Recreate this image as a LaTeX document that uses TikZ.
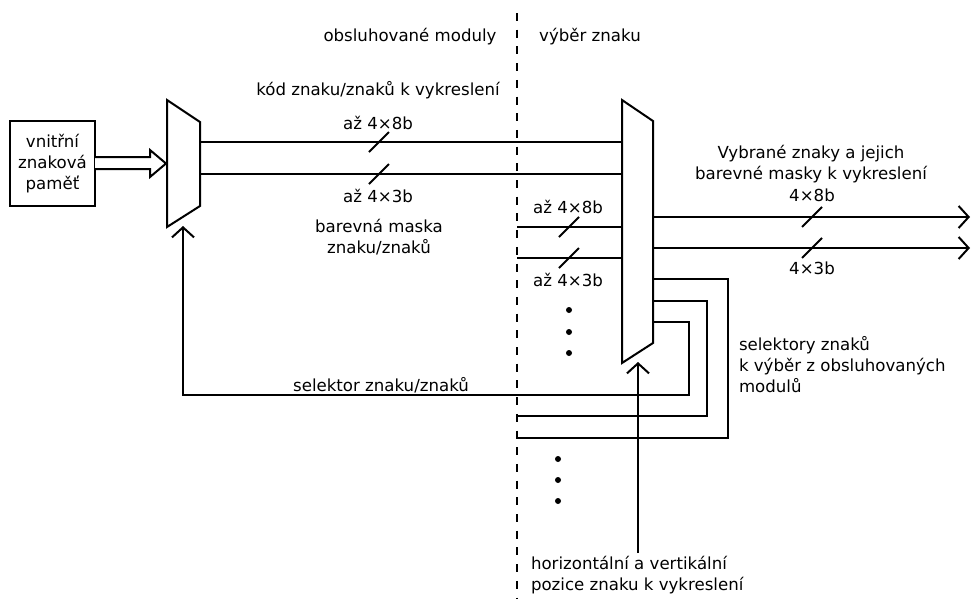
\documentclass[tikz,border=0pt]{standalone}
\usepackage{fontspec}
\setmainfont{DejaVu Sans}
\usetikzlibrary{arrows.meta,calc}
\begin{document}
\begin{tikzpicture}[x=1pt,y=-1pt,line width=2pt,line join=miter,
  every node/.style={inner sep=0pt,outer sep=0pt,font=\fontsize{16.6}{21}\selectfont},
  lbl/.style={align=center},
  lbll/.style={align=left,anchor=west},
  wire/.style={draw},
  arr/.style={-{Straight Barb[length=10pt,width=22pt,line width=2pt]}},
  muxshape/.style={draw,fill=white},
  slash/.style={line width=1.8pt},
  dot/.style={circle,fill=black,minimum size=6pt}]

\useasboundingbox (0,0) rectangle (972,598);

% boundary between the two parts
\draw[line width=2pt,dash pattern=on 8pt off 8.7pt] (517,13) -- (517,598);

% memory block
\node[draw,minimum width=85pt,minimum height=85pt,align=center] (mem) at (52.5,163.5)
  {vnitřní\\znaková\\paměť};

% multiplexers
\coordinate (mA1) at (167,100); \coordinate (mA2) at (200,122);
\coordinate (mA3) at (200,206); \coordinate (mA4) at (167,227);
\draw[muxshape] (mA1) -- (mA2) -- (mA3) -- (mA4) -- cycle;
\coordinate (mB1) at (622,100); \coordinate (mB2) at (653,121);
\coordinate (mB3) at (653,343); \coordinate (mB4) at (622,363);
\draw[muxshape] (mB1) -- (mB2) -- (mB3) -- (mB4) -- cycle;

% wide arrow from memory into the first multiplexer
\coordinate (wa) at (mem.east |- 0,157);
\coordinate (wb) at (mem.east |- 0,169);
\draw[fill=white,line width=2pt]
  (wa) -- (150,157) -- (150,150) -- (166,163.5) -- (150,177) -- (150,169) -- (wb);

% code and colour mask buses
\coordinate (a1) at (200,142); \coordinate (b1) at (622,142);
\coordinate (a2) at (200,174); \coordinate (b2) at (622,174);
\draw (a1) -- (b1);
\draw (a2) -- (b2);
\draw[slash] (369,152) -- (389,132);
\draw[slash] (369,184) -- (389,164);
\node[lbl] (t8a) at (378,123) {až 4×8b};
\node[lbl] (t3a) at (378,196) {až 4×3b};
\node[lbl] (mask) at (379,237.5) {barevná maska\\znaku/znaků};

% buses from further modules
\coordinate (c1) at (517,227); \coordinate (d1) at (622,227);
\coordinate (c2) at (517,258); \coordinate (d2) at (622,258);
\draw (c1) -- (d1);
\draw (c2) -- (d2);
\draw[slash] (559,237) -- (579,217);
\draw[slash] (559,268) -- (579,248);
\node[lbl] (t8b) at (568,207) {až 4×8b};
\node[lbl] (t3b) at (568,280) {až 4×3b};
\node[dot] (d1a) at (569,310) {};
\node[dot] (d1b) at (569,332) {};
\node[dot] (d1c) at (569,353) {};

% outputs
\coordinate (o1) at (653,217); \coordinate (e1) at (970,217);
\coordinate (o2) at (653,248); \coordinate (e2) at (970,248);
\draw[arr] (o1) -- (e1);
\draw[arr] (o2) -- (e2);
\draw[slash] (802,227) -- (822,207);
\draw[slash] (802,258) -- (822,238);
\node[lbl] (t8c) at (812,195) {4×8b};
\node[lbl] (t3c) at (812,268) {4×3b};
\node[lbl] (outl) at (811,164) {Vybrané znaky a jejich\\barevné masky k vykreslení};

% selector loops
\coordinate (s1) at (653,279); \coordinate (f1) at (517,438);
\coordinate (s2) at (653,301); \coordinate (f2) at (517,416);
\coordinate (s3) at (653,322); \coordinate (f3) at (183,226);
\draw (s1) -| (728,438) -- (f1);
\draw (s2) -| (707,416) -- (f2);
\draw[arr] (s3) -| (689,395) -| (f3);
\node[lbl] (sel) at (381,385) {selektor znaku/znaků};
\node[lbll] (sels) at (739,365) {selektory znaků\\k výběr z obsluhovaných\\modulů};

\node[dot] (d2a) at (558,459) {};
\node[dot] (d2b) at (558,480) {};
\node[dot] (d2c) at (558,501) {};

% position input
\coordinate (p0) at (638,553); \coordinate (p1) at (638,362);
\draw[arr] (p0) -- (p1);
\node[lbll] (pos) at (531,575) {horizontální a vertikální\\pozice znaku k vykreslení};

% headings
\node[lbl] (h1) at (410,37) {obsluhované moduly};
\node[lbl] (h2) at (590,37) {výběr znaku};
\node[lbl] (h3) at (378,90) {kód znaku/znaků k vykreslení};
\end{tikzpicture}
\end{document}
